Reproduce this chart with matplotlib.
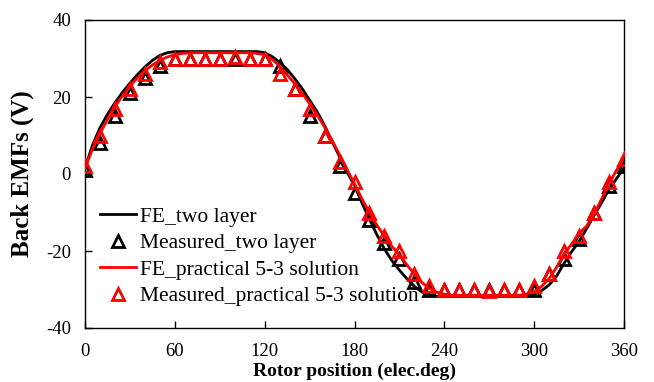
import matplotlib
matplotlib.use("Agg")
import matplotlib.pyplot as plt

plt.rcParams['font.family'] = ['Liberation Serif', 'DejaVu Serif']
plt.rcParams['axes.unicode_minus'] = False

# FE results, sampled every 5 electrical degrees
fe_angle = list(range(0, 365, 5))
fe_two_layer = [
    1.5, 7.5, 12.0, 15.5, 18.5, 21.2, 23.6, 25.8, 27.8, 29.5,
    30.8, 31.5, 31.8, 31.8, 31.8, 31.8, 31.8, 31.8, 31.8, 31.8,
    31.8, 31.8, 31.8, 31.8, 31.5, 30.5, 29.0, 27.2, 24.8, 22.2,
    19.2, 16.2, 12.6, 8.5, 4.5, 0.5, -3.0, -7.5, -11.8, -15.8,
    -19.5, -22.5, -25.0, -27.2, -29.2, -30.6, -31.4, -31.8, -31.8, -31.8,
    -31.8, -31.8, -31.8, -31.8, -31.8, -31.8, -31.8, -31.8, -31.8, -31.8,
    -31.3, -30.3, -28.8, -26.5, -23.2, -20.2, -17.5, -14.2, -10.8, -7.5,
    -4.0, -1.2, 1.5,
]
fe_practical = [
    1.5, 6.5, 10.5, 14.2, 17.5, 20.3, 22.8, 25.0, 26.8, 28.3,
    29.5, 30.4, 31.0, 31.3, 31.5, 31.5, 31.5, 31.5, 31.5, 31.5,
    31.5, 31.5, 31.5, 31.3, 31.0, 29.8, 28.0, 25.8, 23.5, 21.0,
    18.3, 15.4, 12.2, 8.8, 5.0, 1.2, -2.5, -6.5, -10.0, -13.3,
    -16.2, -18.8, -21.0, -23.6, -26.0, -28.2, -29.7, -30.7, -31.2, -31.5,
    -31.5, -31.5, -31.5, -31.5, -31.5, -31.5, -31.5, -31.5, -31.5, -31.2,
    -30.5, -29.2, -27.2, -24.2, -20.8, -18.2, -15.5, -13.5, -10.5, -6.5,
    -2.5, 1.0, 4.2,
]

# Measured back EMFs, every 10 electrical degrees
meas_angle = list(range(0, 370, 10))
meas_two_layer = [
    1, 8, 15, 21, 25, 28, 30, 30, 30, 30,
    30, 30, 30, 28, 22, 15, 10, 2, -5, -12,
    -18, -22, -28, -30, -30, -30, -30, -30, -30, -30,
    -30, -26, -22, -17, -10, -3, 2,
]
meas_practical = [
    2, 10, 17, 22, 26, 29, 30, 30, 30, 30,
    30.5, 30, 30, 26, 22, 17, 10, 3, -2, -10,
    -16, -20, -26, -29, -30, -30, -30, -30.5, -30, -30,
    -29, -26, -20, -16, -10, -2, 4,
]

x_ticks = [0, 60, 120, 180, 240, 300, 360]
y_ticks = [-40, -20, 0, 20, 40]

fig = plt.figure(figsize=(6.54, 3.82), dpi=100)
ax = fig.add_axes([85 / 654, 1 - 328 / 382, (624 - 85) / 654, (328 - 20) / 382])

ax.plot(fe_angle, fe_two_layer, color='black', lw=2.0, label='FE_two layer', zorder=2)
ax.plot(meas_angle, meas_two_layer, ls='none', marker='^', ms=9, mfc='none',
        mec='black', mew=2.0, label='Measured_two layer', zorder=3)
ax.plot(fe_angle, fe_practical, color='red', lw=2.0,
        label='FE_practical 5-3 solution', zorder=4)
ax.plot(meas_angle, meas_practical, ls='none', marker='^', ms=9, mfc='none',
        mec='red', mew=2.0, label='Measured_practical 5-3 solution', zorder=5)

ax.set_xlim(0, 360)
ax.set_ylim(-40, 40)
ax.set_xticks(x_ticks)
ax.set_yticks(y_ticks)
ax.tick_params(direction='in', length=5, width=1, labelsize=13.5)
ax.tick_params(axis='x', pad=11)
ax.tick_params(axis='y', pad=10)
for s in ax.spines.values():
    s.set_linewidth(1.0)

ax.set_xlabel('Rotor position (elec.deg)', fontsize=14, fontweight='bold', va='center')
ax.xaxis.set_label_coords(0.5, (328 - 371) / 308)
ax.set_ylabel('Back EMFs (V)', fontsize=18, fontweight='bold', va='center')
ax.yaxis.set_label_coords((22 - 85) / 539, 0.5)

leg = ax.legend(loc='lower left', bbox_to_anchor=(0.0, 0.022), frameon=False,
                fontsize=15.5, handlelength=1.65, handletextpad=0.2,
                labelspacing=0.3, borderaxespad=0.3)

fig.savefig('out.png', dpi=100)
